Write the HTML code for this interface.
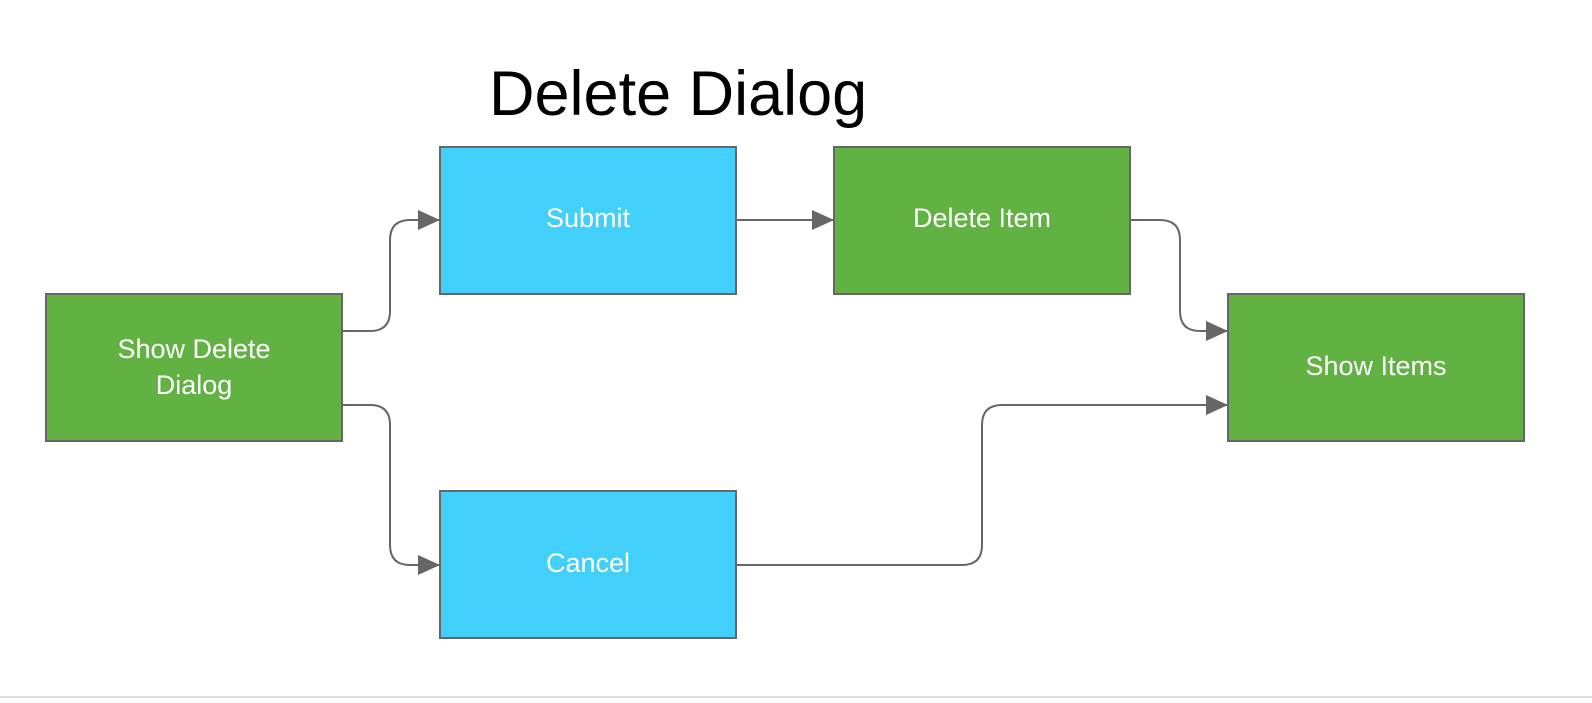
<!DOCTYPE html>
<html><head><style>
body{margin:0;width:1592px;height:698px;background:#fff;overflow:hidden;font-family:"Liberation Sans",sans-serif}
</style></head><body>
<svg width="1592" height="698" xmlns="http://www.w3.org/2000/svg">
<defs><marker id="a" markerWidth="22" markerHeight="20" refX="22" refY="10" orient="auto" markerUnits="userSpaceOnUse"><path d="M0,0 L22,10 L0,20 Z" fill="#666"/></marker></defs>
<text x="489" y="115" font-family="Liberation Sans, sans-serif" font-size="63" fill="#000">Delete Dialog</text>
<g stroke="#666" stroke-width="2">
<rect x="46" y="294" width="296" height="147" fill="#62b243"/>
<rect x="440" y="147" width="296" height="147" fill="#42cff9"/>
<rect x="834" y="147" width="296" height="147" fill="#62b243"/>
<rect x="1228" y="294" width="296" height="147" fill="#62b243"/>
<rect x="440" y="491" width="296" height="147" fill="#42cff9"/>
</g>
<g fill="none" stroke="#666" stroke-width="2">
<path d="M342,331 H370 Q390,331 390,311 V240 Q390,220 410,220 H440" marker-end="url(#a)"/>
<path d="M342,405 H370 Q390,405 390,425 V545 Q390,565 410,565 H440" marker-end="url(#a)"/>
<path d="M736,220 H834" marker-end="url(#a)"/>
<path d="M1130,220 H1160 Q1180,220 1180,240 V311 Q1180,331 1200,331 H1228" marker-end="url(#a)"/>
<path d="M736,565 H962 Q982,565 982,545 V425 Q982,405 1002,405 H1228" marker-end="url(#a)"/>
</g>
<g font-family="Liberation Sans, sans-serif" font-size="27" fill="#fff" text-anchor="middle">
<text x="194" y="358">Show Delete</text>
<text x="194" y="394">Dialog</text>
<text x="588" y="227">Submit</text>
<text x="982" y="227">Delete Item</text>
<text x="1376" y="375">Show Items</text>
<text x="588" y="572">Cancel</text>
</g>
<rect x="0" y="696" width="1592" height="2" fill="#ddd"/>
</svg>
</body></html>
